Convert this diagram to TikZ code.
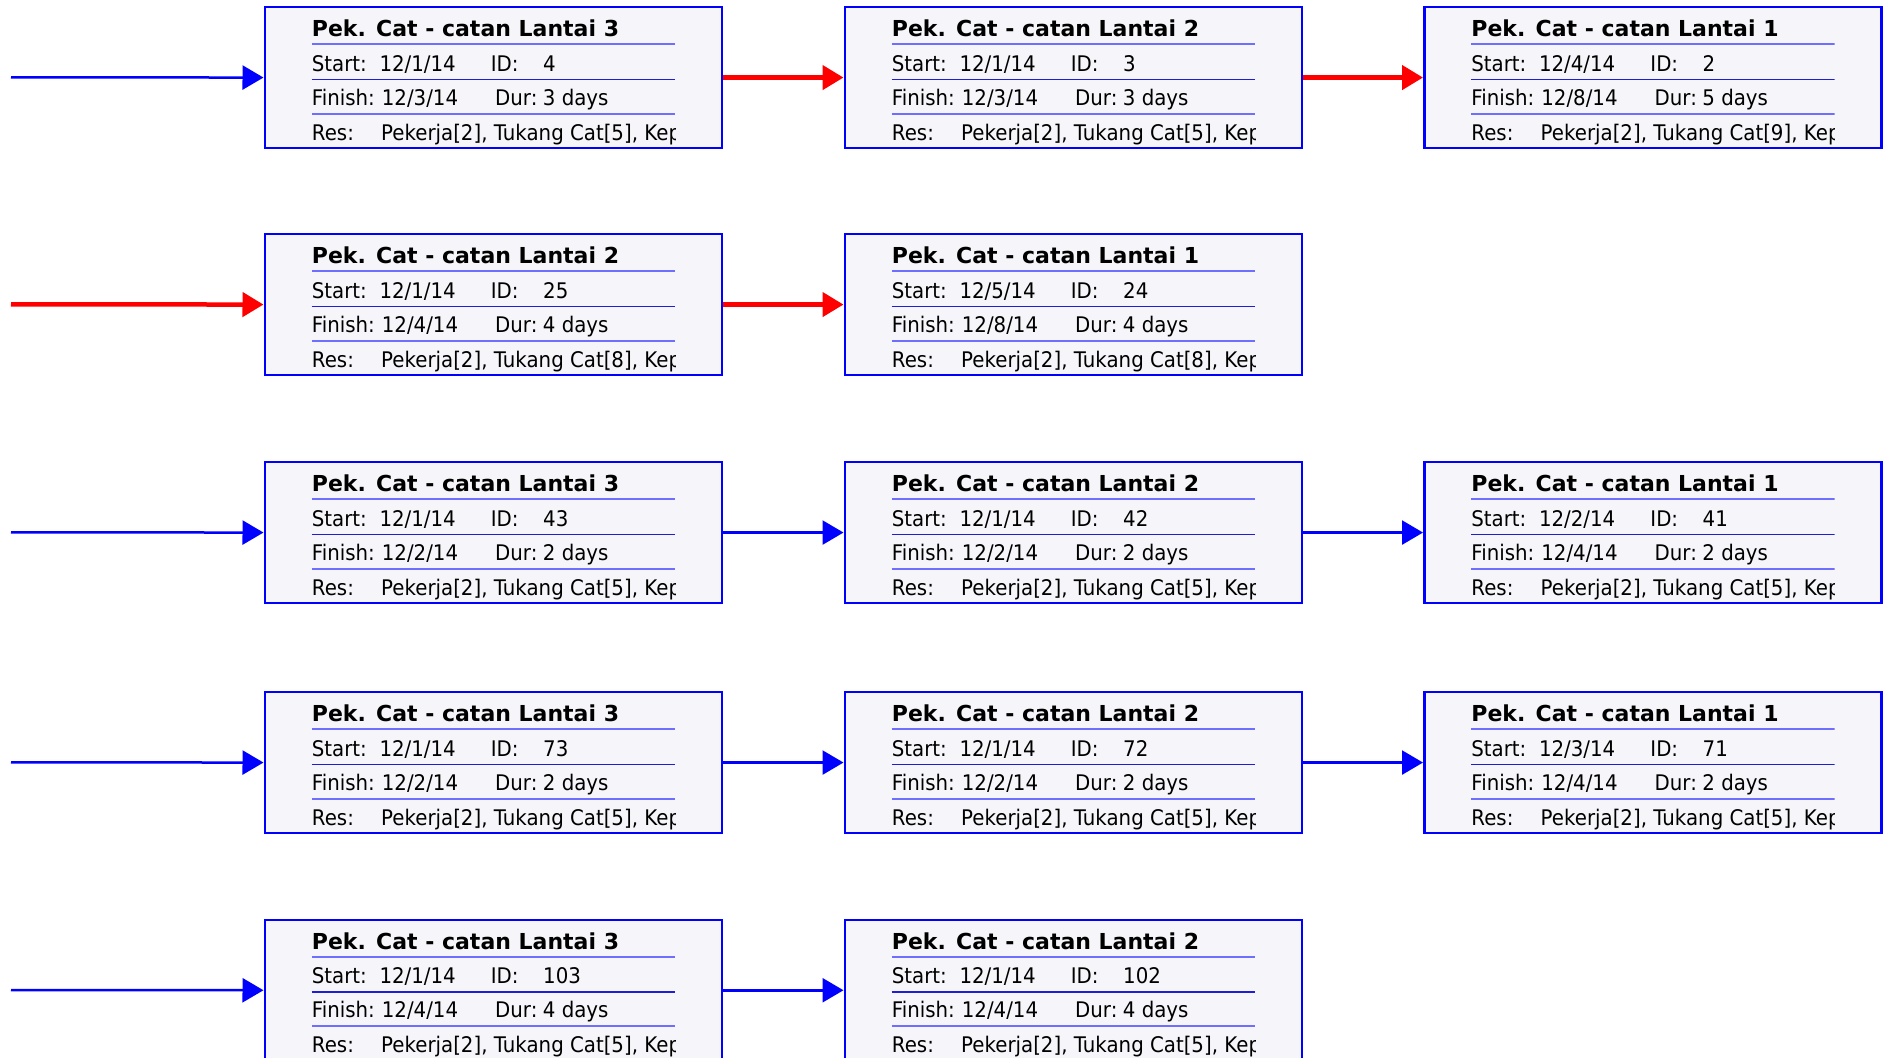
\documentclass[tikz,border=0pt]{standalone}
\usepackage{fontspec}
\setmainfont{DejaVu Sans}
\newfontfamily\bodyfont[FakeStretch=0.92]{DejaVu Sans}
\newfontfamily\headfont{DejaVu Sans}
\usetikzlibrary{arrows.meta}
\definecolor{boxfill}{RGB}{246,246,250}
\definecolor{lineA}{RGB}{110,110,255}
\definecolor{lineB}{RGB}{30,30,215}
\definecolor{pblue}{RGB}{0,0,255}
\definecolor{pred}{RGB}{255,0,0}
\tikzset{
  taskbox/.style={rectangle, draw=pblue, line width=2.5pt, fill=boxfill,
    minimum width=457pt, minimum height=141pt, inner sep=0pt, anchor=north west},
  titletxt/.style={anchor=base west, inner sep=0pt, font=\headfont\bfseries\fontsize{22}{26}\selectfont},
  bodytxt/.style={anchor=base west, inner sep=0pt, font=\bodyfont\fontsize{21.5}{25}\selectfont},
  sepA/.style={draw=lineA, line width=2pt},
  sepB/.style={draw=lineB, line width=1.5pt},
  bluearrow/.style={draw=pblue, line width=2.5pt, -{Triangle[length=21pt,width=24pt]}},
  redarrow/.style={draw=pred, line width=4.5pt, -{Triangle[length=21pt,width=24pt]}},
}
\newcommand\taskbox[9]{%
  \begin{scope}[shift={(#2,#3)}]
    \node[taskbox] (#1) at (0,0) {};
    \begin{scope}
      \clip (0,0) rectangle (411.5,141);
      \node[titletxt] (#1-title) at (48.2,30.9) {#4};
      \draw[sepA] (48.2,38.5) -- (411.5,38.5);
      \node[bodytxt] (#1-sl) at (48.2,65.2) {Start:};
      \node[bodytxt] (#1-sv) at (115.8,65.2) {#5};
      \node[bodytxt] (#1-il) at (227.2,65.2) {ID:};
      \node[bodytxt] (#1-iv) at (279.5,65.2) {#6};
      \draw[sepB] (48.2,73.5) -- (411.5,73.5);
      \node[bodytxt] (#1-fl) at (48.2,99.2) {Finish:};
      \node[bodytxt] (#1-fv) at (118.2,99.2) {#7};
      \node[bodytxt] (#1-dl) at (231.5,99.2) {Dur:};
      \node[bodytxt] (#1-dv) at (279.2,99.2) {#8};
      \draw[sepA] (48.2,107.9) -- (411.5,107.9);
      \node[bodytxt] (#1-rl) at (48.2,134.2) {Res:};
      \node[bodytxt] (#1-rv) at (117.5,134.2) {#9};
    \end{scope}
  \end{scope}}
\begin{document}
\begin{tikzpicture}[x=1pt,y=-1pt]
\useasboundingbox[fill=white] (0,0) rectangle (1883,1058);
% row 1
\taskbox{a1}{263.5}{5.8}{Pek. Cat - catan Lantai 3}{12/1/14}{4}{12/3/14}{3 days}{Pekerja[2], Tukang Cat[5], Kep}
\taskbox{a2}{843.5}{5.8}{Pek. Cat - catan Lantai 2}{12/1/14}{3}{12/3/14}{3 days}{Pekerja[2], Tukang Cat[5], Kep}
\taskbox{a3}{1423}{5.8}{Pek. Cat - catan Lantai 1}{12/4/14}{2}{12/8/14}{5 days}{Pekerja[2], Tukang Cat[9], Kep}
% row 2
\taskbox{b1}{263.5}{232.8}{Pek. Cat - catan Lantai 2}{12/1/14}{25}{12/4/14}{4 days}{Pekerja[2], Tukang Cat[8], Kep}
\taskbox{b2}{843.5}{232.8}{Pek. Cat - catan Lantai 1}{12/5/14}{24}{12/8/14}{4 days}{Pekerja[2], Tukang Cat[8], Kep}
% row 3
\taskbox{c1}{263.5}{460.8}{Pek. Cat - catan Lantai 3}{12/1/14}{43}{12/2/14}{2 days}{Pekerja[2], Tukang Cat[5], Kep}
\taskbox{c2}{843.5}{460.8}{Pek. Cat - catan Lantai 2}{12/1/14}{42}{12/2/14}{2 days}{Pekerja[2], Tukang Cat[5], Kep}
\taskbox{c3}{1423}{460.8}{Pek. Cat - catan Lantai 1}{12/2/14}{41}{12/4/14}{2 days}{Pekerja[2], Tukang Cat[5], Kep}
% row 4
\taskbox{d1}{263.5}{690.8}{Pek. Cat - catan Lantai 3}{12/1/14}{73}{12/2/14}{2 days}{Pekerja[2], Tukang Cat[5], Kep}
\taskbox{d2}{843.5}{690.8}{Pek. Cat - catan Lantai 2}{12/1/14}{72}{12/2/14}{2 days}{Pekerja[2], Tukang Cat[5], Kep}
\taskbox{d3}{1423}{690.8}{Pek. Cat - catan Lantai 1}{12/3/14}{71}{12/4/14}{2 days}{Pekerja[2], Tukang Cat[5], Kep}
% row 5
\taskbox{e1}{263.5}{918.5}{Pek. Cat - catan Lantai 3}{12/1/14}{103}{12/4/14}{4 days}{Pekerja[2], Tukang Cat[5], Kep}
\taskbox{e2}{843.5}{918.5}{Pek. Cat - catan Lantai 2}{12/1/14}{102}{12/4/14}{4 days}{Pekerja[2], Tukang Cat[5], Kep}
% free ends of incoming connectors
\coordinate (ina) at (11,77.3);
\coordinate (inb) at (11,304.3);
\coordinate (inc) at (11,532.3);
\coordinate (ind) at (11,762.3);
\coordinate (ine) at (11,990);
% connectors
\draw[bluearrow] (ina) -- (a1.west);
\draw[redarrow] (a1.east) -- (a2.west);
\draw[redarrow] (a2.east) -- (a3.west);
\draw[redarrow] (inb) -- (b1.west);
\draw[redarrow] (b1.east) -- (b2.west);
\draw[bluearrow] (inc) -- (c1.west);
\draw[bluearrow] (c1.east) -- (c2.west);
\draw[bluearrow] (c2.east) -- (c3.west);
\draw[bluearrow] (ind) -- (d1.west);
\draw[bluearrow] (d1.east) -- (d2.west);
\draw[bluearrow] (d2.east) -- (d3.west);
\draw[bluearrow] (ine) -- (e1.west);
\draw[bluearrow] (e1.east) -- (e2.west);
\end{tikzpicture}
\end{document}
